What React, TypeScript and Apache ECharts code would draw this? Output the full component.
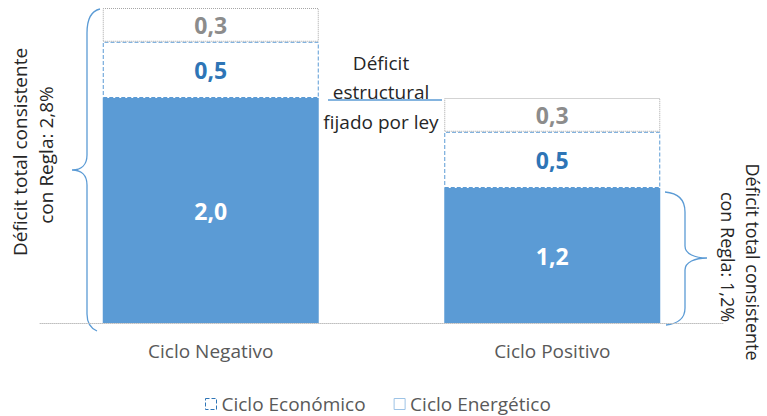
import React, { useEffect, useRef } from "react";
import * as echarts from "echarts";

const categories = ["Ciclo Negativo", "Ciclo Positivo"];
const baseValues = [2.0, 1.2];
const economicoValues = [0.5, 0.5];
const energeticoValues = [0.3, 0.3];
const seriesNames = ["Déficit estructural", "Ciclo Económico", "Ciclo Energético"];

const FONT = "'Open Sans', 'Noto Sans', sans-serif";

const fmt = (p: any) => Number(p.value).toFixed(1).replace(".", ",");

const leftBrace =
  "M100,9 C91,11 87,19 87,33 L87,155 C87,165 81,170 72,170 C81,170 87,175 87,185 L87,314 C87,323 90,328 97,331";
const rightBrace =
  "M665,192 C678,193 685,200 685,212 L685,246 C685,254 695,258 707,258 C695,258 685,262 685,270 L685,308 C685,318 678,324 666,325";

export default function App() {
  const ref = useRef<HTMLDivElement>(null);
  useEffect(() => {
    document.body.style.margin = "0";
    echarts.graphic.registerShape("braceL", echarts.graphic.extendPath(leftBrace, {}));
    echarts.graphic.registerShape("braceR", echarts.graphic.extendPath(rightBrace, {}));
    const chart = echarts.init(ref.current!, null, { renderer: "svg" });
    const labelBase = { show: true, position: "inside", fontWeight: "bold", fontSize: 23, fontFamily: FONT, formatter: fmt };
    const txt = (text: string, x: number, y: number, size: number, rotation = 0) => ({
      type: "text",
      x,
      y,
      rotation,
      style: { text, fill: "#262626", fontSize: size, fontFamily: FONT, align: "center", verticalAlign: "middle" },
    });
    chart.setOption({
      animation: false,
      textStyle: { fontFamily: FONT },
      grid: { left: 40, right: 44, top: 8, bottom: 93 },
      xAxis: {
        type: "category",
        data: categories,
        axisTick: { show: false },
        axisLine: { lineStyle: { color: "#BFBFBF", type: "dotted", width: 1 } },
        axisLabel: { color: "#595959", fontSize: 19, margin: 18, fontFamily: FONT },
      },
      yAxis: { type: "value", min: 0, max: 2.8, show: false, splitLine: { show: false } },
      legend: {
        left: 205,
        top: 393,
        padding: 0,
        itemWidth: 11,
        itemHeight: 11,
        itemGap: 28,
        textStyle: { color: "#595959", fontSize: 19, fontFamily: FONT, lineHeight: 22 },
        data: [
          { name: seriesNames[1], icon: "rect", itemStyle: { color: "#fff", borderColor: "#2E75B6", borderType: "dashed", borderWidth: 1 } },
          { name: seriesNames[2], icon: "rect", itemStyle: { color: "#fff", borderColor: "#9DC3E6", borderType: "solid", borderWidth: 1 } },
        ],
      },
      series: [
        {
          name: seriesNames[0],
          type: "bar",
          stack: "a",
          barWidth: 216,
          data: baseValues,
          itemStyle: { color: "#5B9BD5" },
          label: { ...labelBase, color: "#fff" },
        },
        {
          name: seriesNames[1],
          type: "bar",
          stack: "a",
          barWidth: 216,
          data: economicoValues,
          itemStyle: { color: "#fff", borderColor: "#5B9BD5", borderType: "dashed", borderWidth: 1 },
          label: { ...labelBase, color: "#2E75B6" },
        },
        {
          name: seriesNames[2],
          type: "bar",
          stack: "a",
          barWidth: 216,
          data: energeticoValues,
          itemStyle: { color: "#fff", borderColor: "#A6A6A6", borderType: "dotted", borderWidth: 1 },
          label: { ...labelBase, color: "#8C8C8C" },
        },
      ],
      graphic: [
        { type: "braceL", x: 0, y: 0, style: { fill: "none", stroke: "#5B9BD5", lineWidth: 1.3 } },
        { type: "braceR", x: 0, y: 0, style: { fill: "none", stroke: "#5B9BD5", lineWidth: 1.3 } },
        { type: "line", shape: { x1: 110, y1: 190, x2: 163, y2: 321 }, style: { stroke: "#4A7FB5", lineWidth: 1, lineDash: [1, 3], opacity: 0.6 } },
        { type: "line", shape: { x1: 328, y1: 100, x2: 442, y2: 100 }, style: { stroke: "#5B9BD5", lineWidth: 1.5 } },
        txt("Déficit", 381, 63, 19),
        txt("estructural", 381, 92, 19),
        txt("fijado por ley", 381, 122, 19),
        txt("Déficit total consistente", 20, 152, 19, Math.PI / 2),
        txt("con Regla: 2,8%", 46, 155, 19, Math.PI / 2),
        txt("Déficit total consistente", 753, 262, 18, -Math.PI / 2),
        txt("con Regla: 1,2%", 728, 257, 18, -Math.PI / 2),
      ],
    });
    return () => chart.dispose();
  }, []);
  return <div ref={ref} style={{ width: 767, height: 416 }} />;
}
